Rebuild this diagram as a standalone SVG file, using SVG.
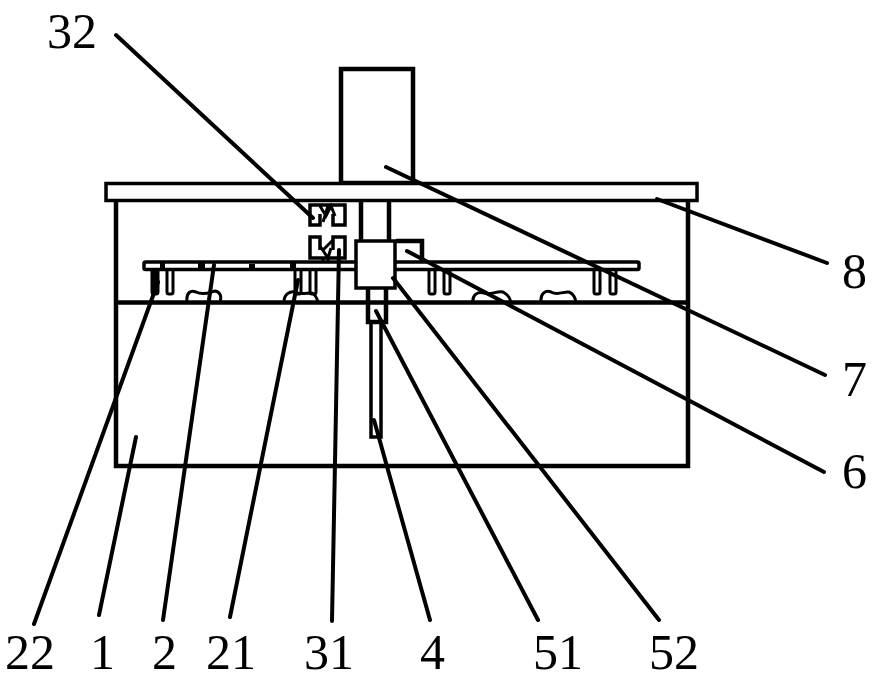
<svg xmlns="http://www.w3.org/2000/svg" width="876" height="680" viewBox="0 0 876 680">
<style>
.s{fill:none;stroke:#000;stroke-width:3.500}
.b{fill:none;stroke:#000;stroke-width:4.500}
.w{fill:#fff;stroke:#000;stroke-width:3.500}
.t{fill:none;stroke:#000;stroke-width:3}
.l{fill:none;stroke:#000;stroke-width:4;stroke-linecap:round}
text{font-family:"Liberation Serif","Times New Roman",serif;font-size:50px;fill:#000}
</style>
<rect width="876" height="680" fill="#fff"/>
<g id="node-1"><path class="b" d="M116 201V466H688V201M116 302.500H688"/></g>
<g id="node-7"><rect class="b" x="341" y="69" width="72" height="114"/></g>
<g id="node-8"><rect class="w" x="106" y="183.500" width="591" height="17"/></g>
<g id="node-3"><path class="b" d="M361 201V241M389 201V241"/></g>
<g id="node-2"><rect class="s" x="144" y="262" width="495" height="7.500" rx="1.500"/></g>
<g id="node-22">
<path class="t" d="M152 270V292Q152 294 154 294H156Q158 294 158 292V270M167 270V292Q167 294 169 294H171Q173 294 173 292V270M295 270V292Q295 294 297 294H299Q301 294 301 292V270M310 270V292Q310 294 312 294H314Q316 294 316 292V270M429 270V292Q429 294 431 294H433Q435 294 435 292V270M444 270V292Q444 294 446 294H448Q450 294 450 292V270M594 270V292Q594 294 596 294H598Q600 294 600 292V270M610 270V292Q610 294 612 294H614Q616 294 616 292V270"/>
<path class="b" d="M155 270V294"/>
</g>
<g id="node-21">
<path class="t" d="M187 302C186 292 191 290 196 292C204 296 210 292 215 291C220 292 222 296 220 302M284 302C284 294 290 291 295 292C300 295 306 293 312 293C316 295 317 298 318 302M473 302C472 295 478 291 484 293C490 296 498 290 503 292C507 294 510 298 511 302M541 302C540 293 546 290 551 292C558 296 564 291 569 292C574 294 575 298 576 302"/>
<path d="M160 263h5v6h-5zM198 263h7v6h-7zM249 264h6v4h-6zM290 263h6v6h-6z"/>
</g>
<g id="node-32">
<path class="s" d="M320 214V225H310V205H345V225H333V214"/>
<path class="s" d="M320 250V237H310V258H345V237H333V250"/>
</g>
<g id="node-6"><path class="b" d="M396 241H422V261"/></g>
<g id="node-52"><rect class="w" x="356" y="241" width="39" height="47" stroke-width="5"/></g>
<g id="node-51"><path class="b" d="M368 288V322H386V288"/></g>
<g id="node-4"><path class="s" d="M371 322V437H381V322"/></g>
<g id="connectors">
<path class="l" d="M116 35L313 218"/>
<path class="l" d="M657 199L827 263"/>
<path class="l" d="M386 167L825 375"/>
<path class="l" d="M407 251L824 472"/>
<path class="l" d="M393 278L659 620"/>
<path class="l" d="M376 311L538 620"/>
<path class="l" d="M374 420L430 620"/>
<path class="l" d="M339 250L332 621"/>
<path class="l" d="M298 280L230 617"/>
<path class="l" d="M214 265L163 620"/>
<path class="l" d="M158 282L34 624"/>
<path class="l" d="M136 437L99 615"/>
<path class="t" d="M320 206L326 216L331 206L335 216M323 222L328 206M323 250L333 240M320 246L328 258L331 248M323 258V263M328 258V263"/>
</g>
<g id="labels">
<text x="47" y="48">32</text>
<text x="842" y="288">8</text>
<text x="842" y="396">7</text>
<text x="842" y="488">6</text>
<text x="5" y="669">22</text>
<text x="90" y="669">1</text>
<text x="152" y="669">2</text>
<text x="206" y="669">21</text>
<text x="304" y="669">31</text>
<text x="420" y="669">4</text>
<text x="533" y="669">51</text>
<text x="649" y="669">52</text>
</g>
</svg>
